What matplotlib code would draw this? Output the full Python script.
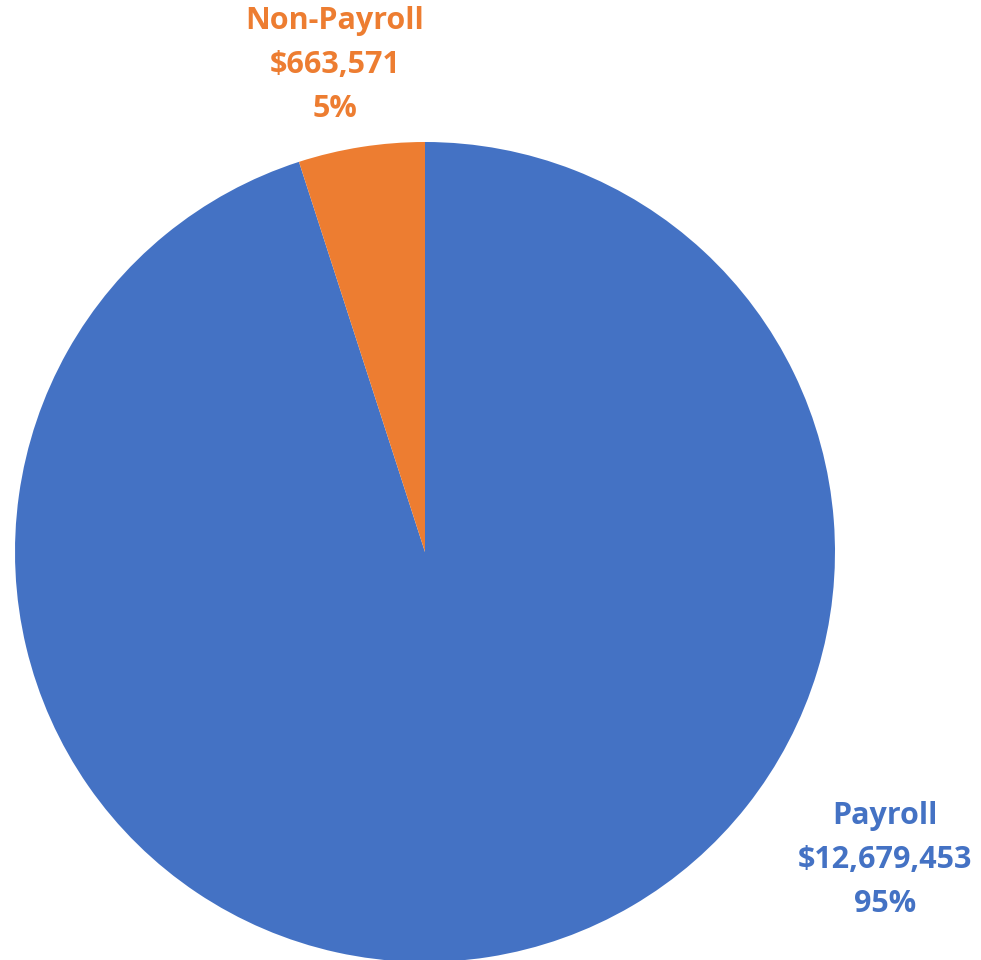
import matplotlib

matplotlib.use("Agg")
import matplotlib.pyplot as plt

categories = ["Payroll", "Non-Payroll"]
amounts = [12679453, 663571]
colors = ["#4472C4", "#ED7D31"]

W, H = 981, 960
fig = plt.figure(figsize=(W / 100, H / 100), dpi=100)

# pie box in pixel terms: center (425, 552), radius 410
cx, cy, r = 425, 552, 410
ax = fig.add_axes([(cx - r) / W, (H - cy - r) / H, 2 * r / W, 2 * r / H])
ax.pie(amounts, colors=colors, startangle=90, counterclock=False, radius=1.0,
       wedgeprops=dict(linewidth=0))
ax.set_xlim(-1, 1)
ax.set_ylim(-1, 1)
ax.set_axis_off()

total = sum(amounts)
label_pos = {"Non-Payroll": (335, 65), "Payroll": (885, 860)}
for name, amt, col in zip(categories, amounts, colors):
    x, y = label_pos[name]
    pct = round(100 * amt / total)
    txt = f"{name}\n${amt:,}\n{pct}%"
    fig.text(x / W, 1 - y / H, txt, ha="center", va="center", color=col,
             fontsize=22, fontweight="bold", family="Open Sans", linespacing=1.62)

fig.savefig("out.png", dpi=100)
